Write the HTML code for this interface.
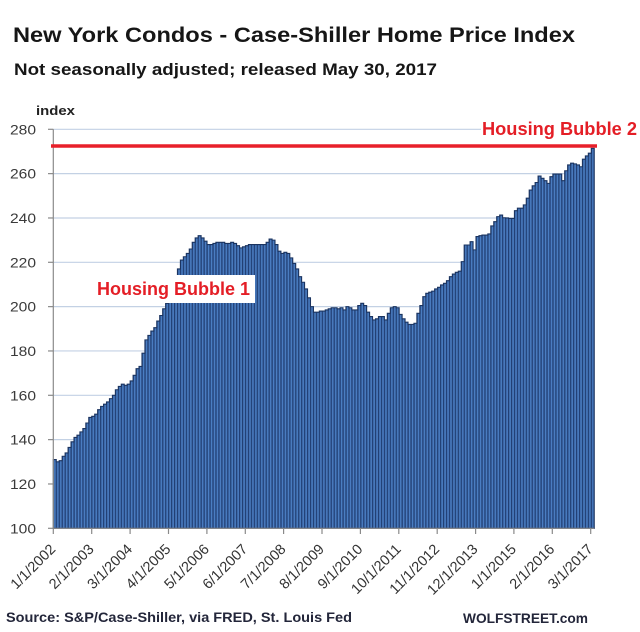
<!DOCTYPE html>
<html>
<head>
<meta charset="utf-8">
<style>
  html,body{margin:0;padding:0;background:#fff;}
  svg{display:block;}
  text{font-family:"Liberation Sans",Arial,sans-serif;}
</style>
</head>
<body>
<svg width="640" height="632" viewBox="0 0 640 632" xmlns="http://www.w3.org/2000/svg">
  <defs>
    <pattern id="bars" patternUnits="userSpaceOnUse" x="0" y="0" width="1" height="400">
      <rect x="0" y="0" width="1" height="400" fill="#213f74"/>
      <rect x="0.26" y="0" width="0.54" height="400" fill="#4b7ec3"/>
    </pattern>
  </defs>
  <rect width="640" height="632" fill="#fff"/>

  <!-- Titles -->
  <text x="13" y="42" font-size="21" font-weight="bold" fill="#161616" textLength="562" lengthAdjust="spacingAndGlyphs">New York Condos - Case-Shiller Home Price Index</text>
  <text x="14" y="75" font-size="17" font-weight="bold" fill="#161616" textLength="423" lengthAdjust="spacingAndGlyphs">Not seasonally adjusted; released May 30, 2017</text>
  <text x="36" y="115" font-size="13" font-weight="bold" fill="#222" textLength="39" lengthAdjust="spacingAndGlyphs">index</text>

  <!-- Gridlines -->
  <g stroke="#c3d1e4" stroke-width="1.2">
    <line x1="53.3" y1="483.97" x2="594" y2="483.97"/>
    <line x1="53.3" y1="439.63" x2="594" y2="439.63"/>
    <line x1="53.3" y1="395.3" x2="594" y2="395.3"/>
    <line x1="53.3" y1="350.96" x2="594" y2="350.96"/>
    <line x1="53.3" y1="306.63" x2="594" y2="306.63"/>
    <line x1="53.3" y1="262.3" x2="594" y2="262.3"/>
    <line x1="53.3" y1="217.97" x2="594" y2="217.97"/>
    <line x1="53.3" y1="173.63" x2="594" y2="173.63"/>
    <line x1="53.3" y1="129.3" x2="594" y2="129.3"/>
  </g>

  <!-- Bars -->
  <g transform="translate(53.3,528.3) scale(2.956,-2.2167) translate(0,-100)">
    <path fill="url(#bars)" stroke="#1b3460" stroke-width="1.1" vector-effect="non-scaling-stroke" d="M0 100
V131 H1 V130 H2 V130.5 H3 V132.5 H4 V134 H5 V136.5 H6 V139 H7 V141 H8 V142 H9 V143.5 H10
V145 H11 V147.5 H12 V150 H13 V150.5 H14 V151.5 H15 V153.5 H16 V155 H17 V156 H18 V157 H19 V158.5 H20
V160 H21 V162.5 H22 V164 H23 V165 H24 V164.5 H25 V165 H26 V166.5 H27 V169 H28 V172 H29 V173 H30
V179 H31 V185 H32 V187 H33 V189 H34 V190.5 H35 V193.5 H36 V196 H37 V199 H38 V201.5 H39 V205 H40
V209 H41 V213 H42 V217 H43 V221 H44 V222.5 H45 V224 H46 V226 H47 V229 H48 V231 H49 V232 H50
V231 H51 V229.5 H52 V228 H53 V228 H54 V228.5 H55 V229 H56 V229 H57 V229 H58 V228.5 H59 V228.5 H60
V229 H61 V228.5 H62 V227.5 H63 V226.5 H64 V227 H65 V227.5 H66 V228 H67 V228 H68 V228 H69 V228 H70
V228 H71 V228 H72 V229 H73 V230.5 H74 V230 H75 V228 H76 V225 H77 V224 H78 V224.5 H79 V224 H80
V222 H81 V219.5 H82 V217 H83 V213.5 H84 V211 H85 V208 H86 V204 H87 V200 H88 V197.5 H89 V197.5 H90
V198 H91 V198 H92 V198.5 H93 V199 H94 V199.5 H95 V199.5 H96 V199 H97 V199.5 H98 V198.5 H99 V200 H100
V199.5 H101 V198.5 H102 V198.5 H103 V200.5 H104 V201.5 H105 V200.5 H106 V197.5 H107 V195.5 H108 V194 H109 V194.5 H110
V195.5 H111 V195.5 H112 V194 H113 V197 H114 V199.5 H115 V200 H116 V199.5 H117 V196.5 H118 V194.5 H119 V193 H120
V192 H121 V192 H122 V192.5 H123 V197 H124 V200.5 H125 V204.5 H126 V206 H127 V206.5 H128 V207 H129 V208 H130
V208.7 H131 V209.8 H132 V210.5 H133 V211.7 H134 V213.5 H135 V214.7 H136 V215.5 H137 V216 H138 V220.3 H139 V227.8 H140
V227.8 H141 V229.3 H142 V225.6 H143 V231.6 H144 V232 H145 V232.3 H146 V232.3 H147 V232.8 H148 V236.4 H149 V238.3 H150
V240.6 H151 V241.3 H152 V240.1 H153 V240 H154 V239.8 H155 V239.8 H156 V243.3 H157 V244.4 H158 V244.4 H159 V245.9 H160
V248.9 H161 V252.6 H162 V254.5 H163 V256 H164 V258.9 H165 V257.9 H166 V256.8 H167 V255.6 H168 V258.6 H169 V259.8 H170
V259.8 H171 V259.8 H172 V256.8 H173 V261.3 H174 V263.9 H175 V264.7 H176 V264.4 H177 V263.9 H178 V263.1 H179 V266.5 H180
V268 H181 V269.2 H182 V271.4 H183 V100 Z"/>
  </g>

  <!-- Axes -->
  <g stroke="#8a8a8a" stroke-width="1.2" fill="none">
    <line x1="53.3" y1="129.3" x2="53.3" y2="528.3"/>
    <line x1="53.3" y1="528.3" x2="594" y2="528.3"/>
    <line x1="48" y1="528.3" x2="53.3" y2="528.3"/>
    <line x1="48" y1="483.97" x2="53.3" y2="483.97"/>
    <line x1="48" y1="439.63" x2="53.3" y2="439.63"/>
    <line x1="48" y1="395.3" x2="53.3" y2="395.3"/>
    <line x1="48" y1="350.96" x2="53.3" y2="350.96"/>
    <line x1="48" y1="306.63" x2="53.3" y2="306.63"/>
    <line x1="48" y1="262.3" x2="53.3" y2="262.3"/>
    <line x1="48" y1="217.97" x2="53.3" y2="217.97"/>
    <line x1="48" y1="173.63" x2="53.3" y2="173.63"/>
    <line x1="48" y1="129.3" x2="53.3" y2="129.3"/>
    <line x1="53.3" y1="528.3" x2="53.3" y2="534"/>
    <line x1="91.7" y1="528.3" x2="91.7" y2="534"/>
    <line x1="130.1" y1="528.3" x2="130.1" y2="534"/>
    <line x1="168.5" y1="528.3" x2="168.5" y2="534"/>
    <line x1="206.9" y1="528.3" x2="206.9" y2="534"/>
    <line x1="245.3" y1="528.3" x2="245.3" y2="534"/>
    <line x1="283.6" y1="528.3" x2="283.6" y2="534"/>
    <line x1="322.0" y1="528.3" x2="322.0" y2="534"/>
    <line x1="360.4" y1="528.3" x2="360.4" y2="534"/>
    <line x1="398.8" y1="528.3" x2="398.8" y2="534"/>
    <line x1="437.2" y1="528.3" x2="437.2" y2="534"/>
    <line x1="475.6" y1="528.3" x2="475.6" y2="534"/>
    <line x1="513.9" y1="528.3" x2="513.9" y2="534"/>
    <line x1="552.3" y1="528.3" x2="552.3" y2="534"/>
    <line x1="590.7" y1="528.3" x2="590.7" y2="534"/>
  </g>

  <!-- Y labels -->
  <g font-size="14" fill="#3a3a3a" text-anchor="end">
    <text x="36" y="533.3" textLength="26" lengthAdjust="spacingAndGlyphs">100</text>
    <text x="36" y="489" textLength="26" lengthAdjust="spacingAndGlyphs">120</text>
    <text x="36" y="444.6" textLength="26" lengthAdjust="spacingAndGlyphs">140</text>
    <text x="36" y="400.3" textLength="26" lengthAdjust="spacingAndGlyphs">160</text>
    <text x="36" y="356" textLength="26" lengthAdjust="spacingAndGlyphs">180</text>
    <text x="36" y="311.6" textLength="26" lengthAdjust="spacingAndGlyphs">200</text>
    <text x="36" y="267.3" textLength="26" lengthAdjust="spacingAndGlyphs">220</text>
    <text x="36" y="223" textLength="26" lengthAdjust="spacingAndGlyphs">240</text>
    <text x="36" y="178.6" textLength="26" lengthAdjust="spacingAndGlyphs">260</text>
    <text x="36" y="134.3" textLength="26" lengthAdjust="spacingAndGlyphs">280</text>
  </g>

  <!-- X labels -->
  <g font-size="14.5" fill="#333" text-anchor="end">
    <text transform="translate(56.3,550) rotate(-45)">1/1/2002</text>
    <text transform="translate(94.7,550) rotate(-45)">2/1/2003</text>
    <text transform="translate(133.1,550) rotate(-45)">3/1/2004</text>
    <text transform="translate(171.5,550) rotate(-45)">4/1/2005</text>
    <text transform="translate(209.9,550) rotate(-45)">5/1/2006</text>
    <text transform="translate(248.3,550) rotate(-45)">6/1/2007</text>
    <text transform="translate(286.6,550) rotate(-45)">7/1/2008</text>
    <text transform="translate(325.0,550) rotate(-45)">8/1/2009</text>
    <text transform="translate(363.4,550) rotate(-45)">9/1/2010</text>
    <text transform="translate(401.8,550) rotate(-45)">10/1/2011</text>
    <text transform="translate(440.2,550) rotate(-45)">11/1/2012</text>
    <text transform="translate(478.6,550) rotate(-45)">12/1/2013</text>
    <text transform="translate(516.9,550) rotate(-45)">1/1/2015</text>
    <text transform="translate(555.3,550) rotate(-45)">2/1/2016</text>
    <text transform="translate(593.7,550) rotate(-45)">3/1/2017</text>
  </g>

  <!-- Housing Bubble 2 line + label -->
  <rect x="481" y="117" width="159" height="25" fill="#fff"/>
  <text x="482" y="135" font-size="18" font-weight="bold" fill="#e41e26" textLength="155" lengthAdjust="spacingAndGlyphs">Housing Bubble 2</text>
  <line x1="51" y1="146" x2="597" y2="146" stroke="#e8202a" stroke-width="3.6"/>

  <!-- Housing Bubble 1 label -->
  <rect x="90" y="275" width="165" height="28" fill="#fff"/>
  <text x="97" y="295" font-size="18" font-weight="bold" fill="#e41e26" textLength="153" lengthAdjust="spacingAndGlyphs">Housing Bubble 1</text>

  <!-- Footer -->
  <text x="6" y="622" font-size="14" font-weight="bold" fill="#23263a" textLength="346" lengthAdjust="spacingAndGlyphs">Source: S&amp;P/Case-Shiller, via FRED,  St. Louis Fed</text>
  <text x="463" y="623" font-size="14" font-weight="bold" fill="#23263a" textLength="125" lengthAdjust="spacingAndGlyphs">WOLFSTREET.com</text>
</svg>
</body>
</html>
